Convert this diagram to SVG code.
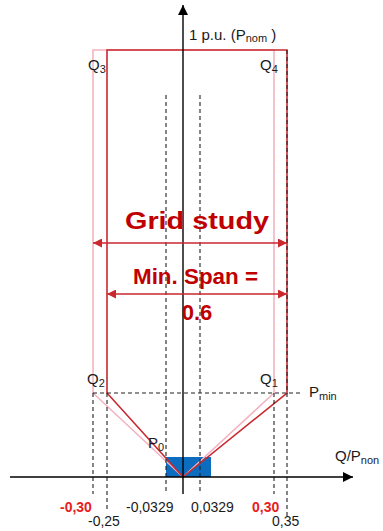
<svg xmlns="http://www.w3.org/2000/svg" width="383" height="531" viewBox="0 0 383 531">
<defs>
<style>
.t{font-family:"Liberation Sans",Arial,sans-serif;font-size:14px;fill:#1a1a1a}
.l{font-size:15px}
.s{font-size:11px}
.rb{font-family:"Liberation Sans",Arial,sans-serif;font-weight:bold;fill:#c00000}
.rv{font-family:"Liberation Sans",Arial,sans-serif;font-weight:bold;font-size:14px;fill:#e8201c}
.dash{stroke:#222;stroke-width:1.1;stroke-dasharray:4,3;fill:none}
.pink{stroke:#f4b3c0;stroke-width:1.6;fill:none}
.red{stroke:#c8282e;stroke-width:1.6;fill:none}
.axis{stroke:#000;stroke-width:1.4;fill:none}
.dim{stroke:#c8282e;stroke-width:1.4;fill:none}
</style>
<marker id="ah" viewBox="0 0 10 10" refX="10" refY="5" markerWidth="10" markerHeight="10" markerUnits="userSpaceOnUse" orient="auto-start-reverse">
<path d="M0,0 L10,5 L0,10 z" fill="#000"/>
</marker>
<marker id="rh" viewBox="0 0 10 10" refX="10" refY="5" markerWidth="9" markerHeight="9" markerUnits="userSpaceOnUse" orient="auto-start-reverse">
<path d="M0,0 L10,5 L0,10 z" fill="#c8282e"/>
</marker>
</defs>
<g id="region-blue">
<rect x="166" y="457" width="45" height="20" fill="#0b6cc0"/>
</g>
<g id="connectors">
<path class="pink" d="M93,50 H274 V393 L183,477 L93,393 Z"/>
<path class="red" d="M107,393 V50 H287 V393 L183,477 Z"/>
<line class="dash" x1="166" y1="95" x2="166" y2="494"/>
<line class="dash" x1="200" y1="95" x2="200" y2="494"/>
<line class="dash" x1="287" y1="50" x2="287" y2="517"/>
<line class="dash" x1="93" y1="393" x2="93" y2="494"/>
<line class="dash" x1="107" y1="393" x2="107" y2="512"/>
<line class="dash" x1="274" y1="393" x2="274" y2="494"/>
<line class="dash" x1="93" y1="393" x2="302" y2="393"/>
<line class="axis" x1="183" y1="494" x2="183" y2="5" marker-end="url(#ah)"/>
<line class="axis" x1="10" y1="477" x2="353" y2="477" marker-end="url(#ah)"/>
<line class="dim" x1="93" y1="243" x2="287" y2="243" marker-start="url(#rh)" marker-end="url(#rh)"/>
<line class="dim" x1="107" y1="294" x2="287" y2="294" marker-start="url(#rh)" marker-end="url(#rh)"/>
</g>
<g id="labels">
<text class="t l" x="189" y="40">1 p.u. (P<tspan class="s" dy="2">nom</tspan><tspan dy="-2"> )</tspan></text>
<text class="t l" x="88" y="70">Q<tspan class="s" dy="3">3</tspan></text>
<text class="t l" x="260" y="70">Q<tspan class="s" dy="3">4</tspan></text>
<text class="t l" x="87" y="384">Q<tspan class="s" dy="3">2</tspan></text>
<text class="t l" x="260" y="384">Q<tspan class="s" dy="3">1</tspan></text>
<text class="t l" x="309" y="397">P<tspan class="s" dy="3">min</tspan></text>
<text class="t l" x="148" y="448">P<tspan class="s" dy="3">0</tspan></text>
<text class="t l" x="335" y="461">Q/P<tspan class="s" dy="3">non</tspan></text>
<text class="rb" x="125" y="229" font-size="24" textLength="144" lengthAdjust="spacingAndGlyphs">Grid study</text>
<text class="rb" x="133" y="284" font-size="22" textLength="125" lengthAdjust="spacingAndGlyphs">Min. Span =</text>
<text class="rb" x="197" y="320" font-size="22" text-anchor="middle">0.6</text>
<text class="rv" x="60" y="512">-0,30</text>
<text class="t" x="88" y="526">-0,25</text>
<text class="t" x="126" y="512">-0,0329</text>
<text class="t" x="191" y="512">0,0329</text>
<text class="rv" x="252" y="512">0,30</text>
<text class="t" x="272" y="526">0,35</text>
</g>
</svg>
